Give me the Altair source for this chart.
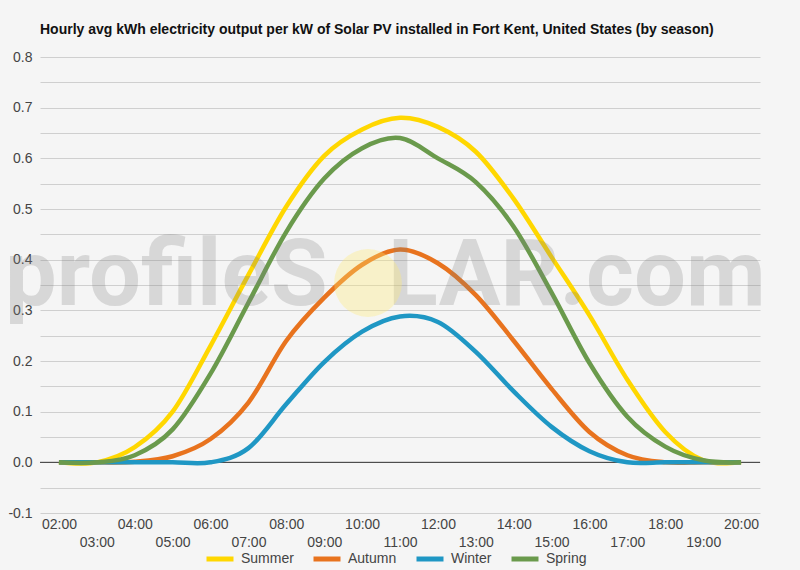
import altair as alt
import pandas as pd

hours = list(range(2, 21))
seasons = ["Summer", "Autumn", "Winter", "Spring"]
colors = ["#FFD700", "#E8731E", "#1F97C4", "#6A9A4C"]

summer = [0, 0, 0.03, 0.10, 0.23, 0.37, 0.505, 0.605, 0.657, 0.68, 0.662, 0.613, 0.52, 0.405, 0.29, 0.163, 0.06, 0.004, 0]
autumn = [0, 0, 0.001, 0.012, 0.046, 0.118, 0.24, 0.325, 0.39, 0.42, 0.393, 0.33, 0.24, 0.145, 0.06, 0.014, 0, 0, 0]
winter = [0, 0, 0, 0, 0, 0.028, 0.115, 0.198, 0.258, 0.288, 0.277, 0.218, 0.14, 0.07, 0.022, 0, 0, 0, 0]
spring = [0, 0, 0.014, 0.065, 0.175, 0.315, 0.455, 0.56, 0.62, 0.64, 0.60, 0.553, 0.465, 0.335, 0.196, 0.09, 0.031, 0.004, 0]

series = {"Summer": summer, "Autumn": autumn, "Winter": winter, "Spring": spring}
rows = []
for i, s in enumerate(seasons):
    for h, v in zip(hours, series[s]):
        rows.append({"hour": h, "value": v, "season": s, "ord": i})
df = pd.DataFrame(rows)

FONT = "Liberation Sans"
title_text = "Hourly avg kWh electricity output per kW of Solar PV installed in Fort Kent, United States (by season)"

y_ticks = [round(-0.1 + 0.05 * i, 2) for i in range(19)]

x_axis = alt.Axis(
    values=hours,
    labelExpr="datum.value % 2 == 1 ? ['', (datum.value < 10 ? '0' : '') + datum.value + ':00'] : (datum.value < 10 ? '0' : '') + datum.value + ':00'",
    labelFontSize=14, labelColor="#444", labelFont=FONT,
    ticks=False, domain=False, grid=False, labelPadding=4,
    labelLineHeight=18, labelOverlap=False, labelFlush=False, title=None,
)
y_axis = alt.Axis(
    values=y_ticks,
    labelExpr="round(datum.value*20) % 2 == 0 ? replace(format(datum.value, '.1f'), '\u2212', '-') : ''",
    labelFontSize=14, labelColor="#444", labelFont=FONT,
    ticks=False, domain=False, grid=True, gridColor="#cfcfcf", gridWidth=1,
    labelPadding=8, title=None,
)

zero = alt.Chart(pd.DataFrame({"z": [0]})).mark_rule(color="#333", strokeWidth=1).encode(
    y=alt.Y("z:Q", scale=alt.Scale(domain=[-0.1, 0.8]), axis=y_axis)
)

lines = alt.Chart(df).mark_line(strokeWidth=4.5, interpolate="cardinal").encode(
    x=alt.X("hour:Q", scale=alt.Scale(domain=[1.5, 20.5], nice=False, zero=False), axis=x_axis),
    y=alt.Y("value:Q", scale=alt.Scale(domain=[-0.1, 0.8], nice=False), axis=y_axis),
    color=alt.Color(
        "season:N",
        scale=alt.Scale(domain=seasons, range=colors),
        sort=seasons,
        legend=alt.Legend(
            orient="none", legendX=164, legendY=486, direction="horizontal",
            symbolType="stroke", symbolStrokeWidth=5, symbolSize=729,
            labelFontSize=14, labelColor="#444", labelFont=FONT, title=None,
            columnPadding=9, labelOffset=5, padding=0,
        ),
    ),
    order=alt.Order("ord:Q"),
)

WM_FONT = "Roboto"
wm1 = alt.Chart(pd.DataFrame({"t": ["profileS"]})).mark_text(
    font=WM_FONT, fontSize=92, fontWeight="bold", color="#808080", opacity=0.25,
    align="left", baseline="alphabetic"
).encode(x=alt.value(-35), y=alt.value(248), text="t:N")
wm2 = alt.Chart(pd.DataFrame({"t": ["LAR.com"]})).mark_text(
    font=WM_FONT, fontSize=92, fontWeight="bold", color="#808080", opacity=0.25,
    align="left", baseline="alphabetic"
).encode(x=alt.value(348), y=alt.value(248), text="t:N")
sun = alt.Chart(pd.DataFrame({"t": ["sun"]})).mark_point(
    shape="circle", filled=True, color="#FFEB70", opacity=0.33, size=4600
).encode(x=alt.value(328), y=alt.value(226))

chart = alt.layer(zero, lines, wm1, wm2, sun).properties(
    width=720, height=456,
    padding={"left": 40, "top": 57, "right": 40, "bottom": 57},
    autosize=alt.AutoSizeParams(type="none"),
    title=alt.Title(title_text, anchor="start", frame="group", fontSize=14, fontWeight="bold",
                    font=FONT, color="#111", offset=13),
    background="#f5f5f5",
).configure_view(stroke=None)

chart.save("out.html", embed_options={"renderer": "svg", "actions": False})
